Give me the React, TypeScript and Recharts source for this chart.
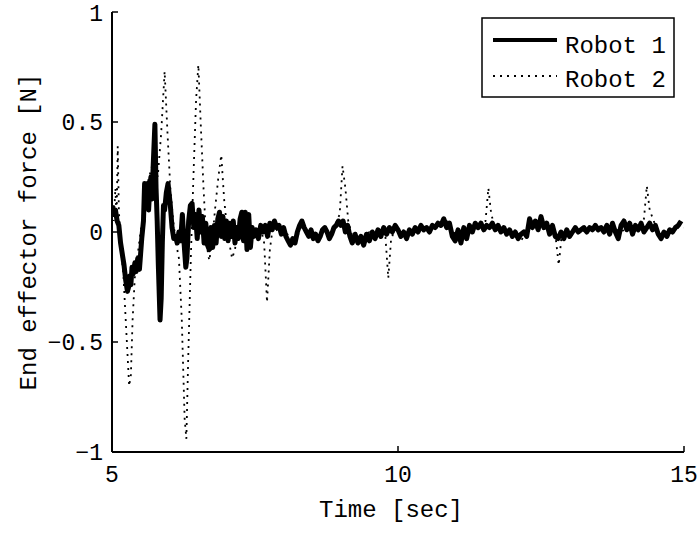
import React from "react";
import { LineChart, Line, XAxis, YAxis, Legend } from "recharts";

const xTicks = [5, 10, 15];
const yTicks = [-1, -0.5, 0, 0.5, 1];
const seriesNames = ["Robot 1", "Robot 2"];
const xLabel = "Time [sec]";
const yLabel = "End effector force [N]";

const robot1Time = [
  5.0, 5.03, 5.06, 5.09, 5.12, 5.15, 5.18, 5.21, 5.24, 5.27, 5.29, 5.31, 5.33, 5.35, 5.37, 5.4, 5.42, 5.45, 5.48, 5.5,
  5.52, 5.55, 5.57, 5.6, 5.62, 5.64, 5.66, 5.68, 5.7, 5.72, 5.75, 5.77, 5.79, 5.81, 5.84, 5.86, 5.88, 5.9, 5.92, 5.95,
  5.98, 6.02, 6.05, 6.08, 6.11, 6.14, 6.17, 6.2, 6.23, 6.26, 6.29, 6.31, 6.34, 6.37, 6.4, 6.43, 6.46, 6.49, 6.52, 6.55,
  6.58, 6.61, 6.64, 6.67, 6.7, 6.73, 6.76, 6.79, 6.82, 6.85, 6.88, 6.91, 6.94, 6.97, 7.0, 7.03, 7.06, 7.09, 7.12, 7.15,
  7.18, 7.21, 7.24, 7.27, 7.3, 7.33, 7.36, 7.39, 7.42, 7.45, 7.48, 7.52, 7.56, 7.6, 7.64, 7.68, 7.72, 7.76, 7.8, 7.84,
  7.88, 7.92, 7.96, 8.0, 8.04, 8.08, 8.12, 8.16, 8.2, 8.24, 8.28, 8.32, 8.36, 8.4, 8.44, 8.48, 8.52, 8.56, 8.6, 8.64,
  8.68, 8.72, 8.76, 8.8, 8.84, 8.88, 8.92, 8.96, 9.0, 9.04, 9.08, 9.12, 9.16, 9.2, 9.25, 9.3, 9.35, 9.4, 9.45, 9.5,
  9.55, 9.6, 9.65, 9.7, 9.75, 9.8, 9.85, 9.9, 9.95, 10.0, 10.05, 10.1, 10.15, 10.2, 10.25, 10.3, 10.35, 10.4, 10.45, 10.5,
  10.55, 10.6, 10.65, 10.7, 10.75, 10.8, 10.85, 10.9, 10.95, 11.0, 11.05, 11.1, 11.15, 11.2, 11.25, 11.3, 11.35, 11.4, 11.45, 11.5,
  11.55, 11.6, 11.65, 11.7, 11.75, 11.8, 11.85, 11.9, 11.95, 12.0, 12.05, 12.1, 12.15, 12.2, 12.25, 12.3, 12.35, 12.4, 12.45, 12.5,
  12.55, 12.6, 12.65, 12.7, 12.75, 12.8, 12.85, 12.9, 12.95, 13.0, 13.05, 13.1, 13.15, 13.2, 13.25, 13.3, 13.35, 13.4, 13.45, 13.5,
  13.55, 13.6, 13.65, 13.7, 13.75, 13.8, 13.85, 13.9, 13.95, 14.0, 14.05, 14.1, 14.15, 14.2, 14.25, 14.3, 14.35, 14.4, 14.45, 14.5,
  14.55, 14.6, 14.65, 14.7, 14.75, 14.8, 14.85, 14.9, 14.95,
];
const robot1Force = [
  0.12, 0.08, 0.1, 0.05, 0.03, -0.05, -0.1, -0.15, -0.22, -0.27, -0.25, -0.2, -0.24, -0.16, -0.19, -0.14, -0.18, -0.12, -0.17, -0.1,
  -0.03, 0.05, 0.22, 0.15, 0.22, 0.1, 0.2, 0.25, 0.15, 0.3, 0.49, 0.2, 0.05, -0.15, -0.4, -0.3, -0.05, 0.12, 0.1, 0.18,
  0.22, 0.12, 0.02, -0.03, -0.02, -0.05, 0.0, -0.04, 0.08, -0.05, -0.16, -0.12, 0.05, 0.12, 0.13, 0.02, 0.08, -0.03, 0.1, 0.0,
  0.07, -0.05, 0.04, -0.06, -0.08, 0.02, -0.07, 0.03, -0.05, 0.06, 0.09, -0.02, 0.07, -0.03, 0.05, -0.04, 0.04, -0.02, 0.05, -0.05,
  0.02, -0.03, 0.06, 0.09, -0.04, 0.09, -0.08, 0.08, -0.07, 0.02, -0.02, 0.01, -0.03, 0.03, 0.0, 0.03, -0.02, 0.04, 0.01, 0.05,
  0.02, 0.03, -0.01, 0.02, -0.02, -0.04, -0.06, -0.03, -0.05, 0.0, 0.03, 0.05, 0.02, 0.0, -0.02, 0.01, -0.03, -0.01, -0.04, -0.02,
  0.01, 0.02, 0.0, -0.03, -0.01, 0.02, 0.03, 0.05, 0.03, 0.05, 0.0, 0.03, -0.02, -0.05, -0.01, -0.05, -0.02, -0.06, -0.01, -0.04,
  0.0, -0.03, 0.01, -0.02, 0.02, -0.01, 0.02, 0.0, 0.03, 0.01, -0.02, 0.0, -0.03, 0.01, -0.01, 0.02, 0.0, 0.03, 0.01, 0.02,
  0.0, 0.03, 0.02, 0.04, 0.03, 0.06, 0.02, 0.04, -0.02, -0.04, 0.01, -0.05, 0.02, -0.03, 0.03, 0.0, 0.04, 0.02, 0.04, 0.01,
  0.03, 0.02, 0.04, 0.01, 0.03, 0.0, 0.02, -0.01, 0.01, -0.02, 0.0, -0.03, -0.01, 0.0, -0.02, 0.06, 0.02, 0.05, 0.01, 0.07,
  0.02, 0.04, -0.01, 0.03, -0.02, -0.03, 0.0, -0.03, 0.01, -0.02, 0.0, 0.02, 0.0, 0.01, 0.02, 0.0, 0.02, 0.01, 0.03, 0.01,
  0.02, 0.0, 0.03, -0.01, 0.04, 0.0, -0.03, 0.03, 0.05, 0.01, 0.04, -0.01, 0.03, 0.01, 0.04, 0.0, 0.02, 0.04, 0.01, 0.03,
  -0.01, -0.03, 0.0, -0.02, 0.01, 0.0, 0.02, 0.03, 0.05,
];

const robot2Time = [
  5.0, 5.03, 5.06, 5.08, 5.1, 5.12, 5.15, 5.2, 5.25, 5.3, 5.33, 5.36, 5.4, 5.45, 5.5, 5.55, 5.6, 5.65, 5.7, 5.75,
  5.8, 5.86, 5.92, 5.97, 6.02, 6.07, 6.12, 6.17, 6.22, 6.27, 6.3, 6.33, 6.38, 6.43, 6.47, 6.51, 6.55, 6.6, 6.65, 6.7,
  6.75, 6.8, 6.86, 6.91, 6.96, 7.01, 7.05, 7.1, 7.15, 7.2, 7.25, 7.3, 7.4, 7.5, 7.6, 7.66, 7.71, 7.76, 7.82, 7.9,
  8.0, 8.1, 8.2, 8.3, 8.4, 8.5, 8.6, 8.7, 8.8, 8.9, 8.98, 9.03, 9.08, 9.13, 9.2, 9.3, 9.4, 9.5, 9.6, 9.7,
  9.78, 9.83, 9.88, 9.95, 10.1, 10.25, 10.4, 10.55, 10.7, 10.85, 11.0, 11.15, 11.3, 11.45, 11.53, 11.58, 11.63, 11.7, 11.85, 12.0,
  12.15, 12.3, 12.45, 12.6, 12.75, 12.81, 12.86, 13.0, 13.15, 13.3, 13.45, 13.6, 13.75, 13.9, 14.05, 14.2, 14.3, 14.35, 14.4, 14.5,
  14.6, 14.75, 14.9, 15.0,
];
const robot2Force = [
  0.15, 0.05, 0.2, 0.05, 0.39, 0.1, -0.05, -0.2, -0.45, -0.7, -0.65, -0.4, -0.2, -0.1, 0.0, 0.1, 0.2, 0.25, 0.3, 0.3,
  0.25, 0.45, 0.73, 0.45, 0.2, 0.05, -0.05, -0.12, -0.4, -0.85, -0.94, -0.6, -0.1, 0.3, 0.6, 0.76, 0.5, 0.2, -0.05, -0.13,
  -0.05, 0.1, 0.25, 0.35, 0.15, 0.02, -0.05, -0.12, -0.08, 0.02, -0.03, 0.05, 0.02, -0.01, 0.02, -0.05, -0.32, -0.08, 0.04, 0.0,
  0.03, -0.03, -0.05, 0.02, 0.0, -0.03, -0.02, 0.01, 0.0, 0.03, 0.08, 0.3, 0.2, 0.05, -0.02, -0.03, -0.02, 0.0, -0.01, 0.0,
  -0.02, -0.21, -0.03, 0.01, 0.0, 0.01, 0.02, 0.0, 0.03, 0.05, -0.01, 0.0, 0.02, 0.03, 0.05, 0.2, 0.08, 0.02, 0.01, -0.01,
  -0.04, 0.02, 0.03, 0.02, -0.01, -0.15, -0.02, -0.01, 0.01, 0.0, 0.02, 0.01, 0.02, 0.0, 0.03, 0.02, 0.06, 0.21, 0.1, 0.03,
  -0.02, 0.0, 0.02, 0.02,
];

const robot1Data = robot1Time.map((t, i) => ({ t, f: robot1Force[i] }));
const robot2Data = robot2Time.map((t, i) => ({ t, f: robot2Force[i] }));

const FONT = "'Liberation Mono', 'Courier New', monospace";

const fmt = (v: number) => {
  const s = String(v);
  return v < 0 ? "\u2212" + s.slice(1) : s;
};

const LegendBox = () => (
  <svg width={196} height={84} style={{ display: "block" }}>
    <rect x={1} y={1} width={192} height={79} fill="#fff" stroke="#000" strokeWidth={1.5} />
    <line x1={12} y1={23} x2={76} y2={23} stroke="#000" strokeWidth={4} />
    <text x={84} y={36} fontFamily={FONT} fontSize={24} fill="#000">{seriesNames[0]}</text>
    <line x1={12} y1={59} x2={76} y2={59} stroke="#000" strokeWidth={1.8} strokeDasharray="2 5" />
    <text x={84} y={70} fontFamily={FONT} fontSize={24} fill="#000">{seriesNames[1]}</text>
  </svg>
);

export default function App() {
  return (
    <div style={{ width: 699, height: 533, background: "#fff", position: "relative" }}>
      <style>{`body{margin:0;background:#fff}`}</style>
      <LineChart width={699} height={533} margin={{ top: 12, right: 15, left: 0, bottom: 0 }}>
        <XAxis
          type="number"
          dataKey="t"
          domain={[5, 15]}
          ticks={xTicks}
          allowDataOverflow
          height={81}
          axisLine={{ stroke: "#000", strokeWidth: 2 }}
          tickLine={{ stroke: "#000", strokeWidth: 1.5 }}
          tickSize={-6}
          tickMargin={20}
          tick={{ fill: "#000", fontFamily: FONT, fontSize: 23 }}
          label={{ value: xLabel, position: "insideBottom", offset: 16, dx: -7, fill: "#000", fontFamily: FONT, fontSize: 24 }}
        />
        <YAxis
          type="number"
          domain={[-1, 1]}
          ticks={yTicks}
          allowDataOverflow
          width={112}
          axisLine={{ stroke: "#000", strokeWidth: 2 }}
          tickLine={{ stroke: "#000", strokeWidth: 1.5 }}
          tickSize={-6}
          tickMargin={15}
          tickFormatter={fmt}
          tick={{ fill: "#000", fontFamily: FONT, fontSize: 23 }}
          label={{ value: yLabel, angle: -90, position: "insideLeft", offset: 27, style: { textAnchor: "middle" }, fill: "#000", fontFamily: FONT, fontSize: 24 }}
        />
        <Legend
          layout="horizontal"
          verticalAlign="middle"
          align="center"
          wrapperStyle={{ left: 481, top: 17, width: 196, height: 84 }}
          content={() => <LegendBox />}
        />
        <Line
          data={robot1Data}
          dataKey="f"
          name={seriesNames[0]}
          stroke="#000"
          strokeWidth={5}
          dot={false}
          isAnimationActive={false}
          strokeLinejoin="round"
        />
        <Line
          data={robot2Data}
          dataKey="f"
          name={seriesNames[1]}
          stroke="#000"
          strokeWidth={1.8}
          strokeDasharray="2 5"
          dot={false}
          isAnimationActive={false}
        />
      </LineChart>
    </div>
  );
}
